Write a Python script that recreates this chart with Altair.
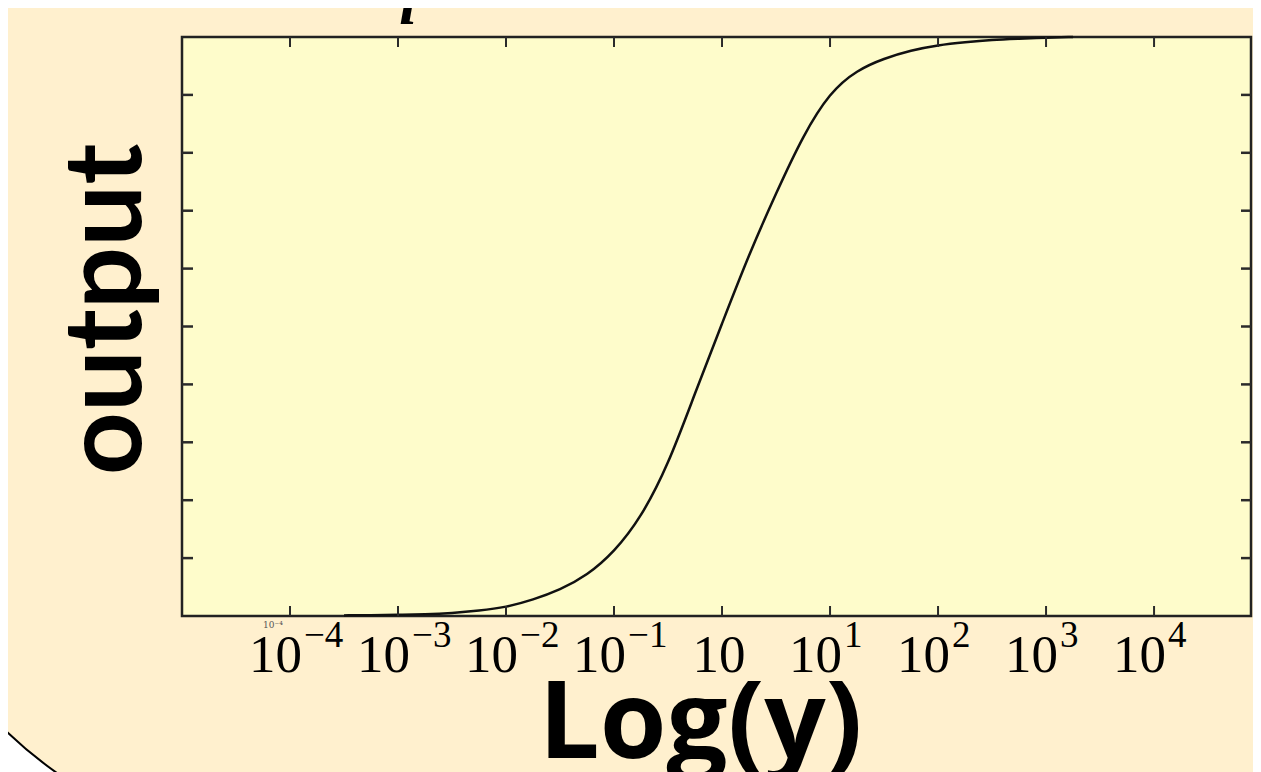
import altair as alt
import pandas as pd

# ---- data ----
y_input = [0.000316, 0.000562, 0.001, 0.00178, 0.00316, 0.00562, 0.01, 0.0178,
           0.0316, 0.0562, 0.1, 0.178, 0.316, 0.562, 1.0, 1.78, 3.16, 5.62, 10.0,
           17.8, 31.6, 56.2, 100.0, 178.0, 316.0, 562.0, 1000.0, 1780.0]
output = [0.001, 0.0015, 0.002, 0.003, 0.005, 0.009, 0.015, 0.028,
          0.045, 0.07, 0.11, 0.17, 0.26, 0.385, 0.505, 0.625, 0.73, 0.83, 0.905,
          0.943, 0.963, 0.977, 0.986, 0.991, 0.995, 0.997, 0.999, 1.0]

x_tick_values = [1e-4, 1e-3, 1e-2, 1e-1, 1.0, 1e1, 1e2, 1e3, 1e4]
x_tick_base = ["10"] * 9
x_tick_exp = ["\u22124", "\u22123", "\u22122", "\u22121", "", "1", "2", "3", "4"]
y_tick_values = [0.1, 0.2, 0.3, 0.4, 0.5, 0.6, 0.7, 0.8, 0.9]

W, H = 1070, 579
BG = "#FFF0CE"
PLOT_BG = "#FEFCCB"

curve_df = pd.DataFrame({"y": y_input, "output": output})
xt = pd.DataFrame({"v": x_tick_values, "base": x_tick_base, "exp": x_tick_exp})
yt = pd.DataFrame({"v": y_tick_values})
one = pd.DataFrame({"a": [0]})

xscale = alt.Scale(type="log", domain=[1e-5, 80700])
yscale = alt.Scale(domain=[0, 1])

# decorative rounded slide panel and plot frame
panel = alt.Chart(one).mark_rect(
    fill=BG, stroke="black", strokeWidth=2, cornerRadius=430
).encode(x=alt.value(-308), x2=alt.value(1700), y=alt.value(-500), y2=alt.value(814))

frame = alt.Chart(one).mark_rect(
    fill=PLOT_BG, stroke="#222222", strokeWidth=2.5
).encode(x=alt.value(0), x2=alt.value(W - 1), y=alt.value(0), y2=alt.value(H))

curve = alt.Chart(curve_df).mark_line(
    color="#111111", strokeWidth=2.5, interpolate="basis"
).encode(
    x=alt.X("y:Q", scale=xscale,
            axis=alt.Axis(labels=False, ticks=False, domain=False, grid=False,
                          title="Log(y)", titleFont="Open Sans", titleFontSize=108,
                          titleFontWeight="bold", titleColor="black",
                          titleX=518, titleY=141, titleBaseline="alphabetic",
                          titleAlign="center", zindex=2)),
    y=alt.Y("output:Q", scale=yscale,
            axis=alt.Axis(labels=False, ticks=False, domain=False, grid=False,
                          title="output", titleFont="Lato", titleFontSize=110,
                          titleFontWeight="bold", titleColor="black",
                          titleAngle=270, titleX=-42, titleY=272,
                          titleBaseline="alphabetic", titleAlign="center", zindex=2)),
)

tick_col = "#2a2a2a"
xt_bottom = alt.Chart(xt).mark_rule(color=tick_col, strokeWidth=2).encode(
    x=alt.X("v:Q", scale=xscale), y=alt.value(H), y2=alt.value(H - 10))
xt_top = alt.Chart(xt).mark_rule(color=tick_col, strokeWidth=2).encode(
    x=alt.X("v:Q", scale=xscale), y=alt.value(0), y2=alt.value(10))
yt_left = alt.Chart(yt).mark_rule(color=tick_col, strokeWidth=2.5).encode(
    y=alt.Y("v:Q", scale=yscale), x=alt.value(0), x2=alt.value(11))
yt_right = alt.Chart(yt).mark_rule(color=tick_col, strokeWidth=2.5).encode(
    y=alt.Y("v:Q", scale=yscale), x=alt.value(W - 11), x2=alt.value(W - 1))

lab_font = "Liberation Serif"
base_txt = alt.Chart(xt).transform_filter("datum.exp != ''").mark_text(
    font=lab_font, fontSize=53, align="right", baseline="alphabetic", dx=12, color="black"
).encode(x=alt.X("v:Q", scale=xscale), y=alt.value(H + 56), text="base:N")
exp_txt = alt.Chart(xt).transform_filter("datum.exp != ''").mark_text(
    font=lab_font, fontSize=37, align="left", baseline="alphabetic", dx=14, color="black"
).encode(x=alt.X("v:Q", scale=xscale), y=alt.value(H + 31), text="exp:N")
zero_txt = alt.Chart(xt).transform_filter("datum.exp == ''").mark_text(
    font=lab_font, fontSize=53, align="center", baseline="alphabetic", dx=-3, color="black"
).encode(x=alt.X("v:Q", scale=xscale), y=alt.value(H + 56), text="base:N")

small_lab = pd.DataFrame({"v": [1e-4], "t": ["10\u207b\u2074"]})
small_txt = alt.Chart(small_lab).mark_text(
    font="DejaVu Serif", fontSize=9, align="center", baseline="middle", dx=-17, color="#555555"
).encode(x=alt.X("v:Q", scale=xscale), y=alt.value(H + 9), text="t:N")

top_i = alt.Chart(pd.DataFrame({"t": ["i"]})).mark_text(
    font="Liberation Serif", fontStyle="italic", fontWeight="bold", fontSize=64,
    align="center", baseline="alphabetic", color="black"
).encode(x=alt.value(226), y=alt.value(-13), text="t:N")

chart = alt.layer(
    panel, frame, curve, xt_bottom, xt_top, yt_left, yt_right,
    base_txt, exp_txt, zero_txt, small_txt, top_i
).properties(
    width=W, height=H,
    autosize=alt.AutoSizeParams(type="none"),
    padding={"left": 174, "top": 29, "right": 1, "bottom": 156},
).configure(background="white").configure_view(stroke=None, fill=None)

chart.save("out.html", embed_options={"renderer": "svg", "actions": False})
